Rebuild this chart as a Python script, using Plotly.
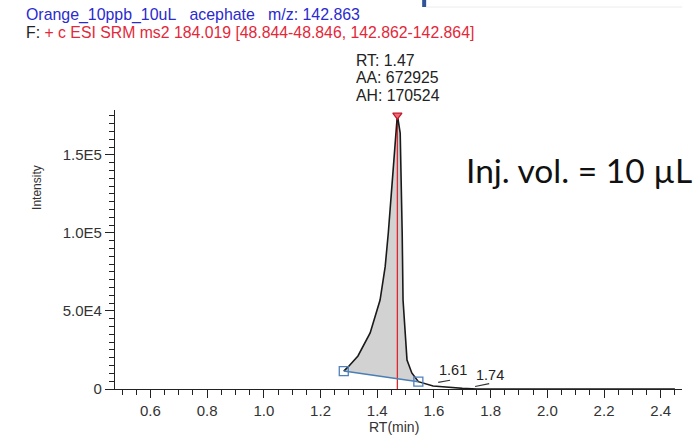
import plotly.graph_objects as go

# ---------------- data ----------------
rt_min = [1.282, 1.298, 1.332, 1.375, 1.410, 1.428, 1.439, 1.449, 1.457, 1.466,
          1.471, 1.481, 1.484, 1.488, 1.491, 1.498, 1.505, 1.522, 1.545, 1.597,
          1.657, 1.700, 1.751, 1.900, 2.100, 2.300, 2.450]
intensity = [11500, 14300, 21200, 35900, 57000, 78400, 100000, 121000, 142500, 164000,
             175500, 164000, 142500, 100000, 57000, 35900, 18600, 10300, 4700, 1900,
             950, 450, 0, 0, 0, 0, 0]

apex_rt = 1.471
apex_int = 175500
peak_info = ["RT: 1.47", "AA: 672925", "AH: 170524"]
boundary_rt = [1.282, 1.545]
boundary_int = [11500, 4700]
minor_labels = ["1.61", "1.74"]
minor_rt = [1.61, 1.74]
minor_int = [12300, 9000]
minor_line_rt = [[1.615, 1.657], [1.745, 1.795]]
minor_line_int = [[4300, 5600], [1600, 3500]]

x_ticks = [0.6, 0.8, 1.0, 1.2, 1.4, 1.6, 1.8, 2.0, 2.2, 2.4]
y_tickvals = [0, 50000, 100000, 150000]
y_ticktext = ["0", "5.0E4", "1.0E5", "1.5E5"]

GAP = "&nbsp;&nbsp;&nbsp;"
header1 = "Orange_10ppb_10uL" + GAP + "acephate" + GAP + "m/z: 142.863"
header2_prefix = "F: "
header2 = "+ c ESI SRM ms2 184.019 [48.844-48.846, 142.862-142.864]"
inj_text = "Inj. vol. = 10 µL"

# ---------------- layout geometry ----------------
W, H = 695, 436
L, R, T, B = 115, 681.7, 110, 389


def px(x):
    return (x - L) / (R - L)


def py(y):
    return (B - y) / (B - T)


fig = go.Figure()

# integrated area fill
poly_x = [r for r in rt_min if boundary_rt[0] <= r <= boundary_rt[1]]
poly_y = [i for r, i in zip(rt_min, intensity) if boundary_rt[0] <= r <= boundary_rt[1]]
poly_x += [boundary_rt[1], boundary_rt[0]]
poly_y += [boundary_int[1], boundary_int[0]]
fig.add_trace(go.Scatter(x=poly_x, y=poly_y, fill="toself", fillcolor="#d2d2d2",
                         line=dict(width=0), mode="lines", hoverinfo="skip"))

# red RT line
fig.add_trace(go.Scatter(x=[apex_rt, apex_rt], y=[0, apex_int], mode="lines",
                         line=dict(color="#e3262f", width=1.3), hoverinfo="skip"))

# chromatogram
fig.add_trace(go.Scatter(x=rt_min, y=intensity, mode="lines",
                         line=dict(color="#1a1a1a", width=1.6), hoverinfo="skip"))

# baseline
fig.add_trace(go.Scatter(x=boundary_rt, y=boundary_int, mode="lines+markers",
                         line=dict(color="#4a7fb5", width=1.6),
                         marker=dict(symbol="square-open", size=9, color="#4f81bd",
                                     line=dict(width=1.3)),
                         hoverinfo="skip"))

# apex marker
fig.add_trace(go.Scatter(x=[apex_rt], y=[apex_int], mode="markers",
                         marker=dict(symbol="triangle-down", size=8, color="#f06a78",
                                     line=dict(color="#c0182a", width=1.2)),
                         hoverinfo="skip"))

# minor peak label leader lines
for lx, ly in zip(minor_line_rt, minor_line_int):
    fig.add_trace(go.Scatter(x=lx, y=ly, mode="lines",
                             line=dict(color="#333333", width=1.2), hoverinfo="skip"))

annotations = []
for lab, r, i in zip(minor_labels, minor_rt, minor_int):
    annotations.append(dict(x=r, y=i, xref="x", yref="y", text=lab, showarrow=False,
                            xanchor="left", yanchor="middle",
                            font=dict(family="Arial", size=14.5, color="#222222")))

for k, line in enumerate(peak_info):
    annotations.append(dict(x=px(354), y=py(60 + 17.5 * k), xref="paper", yref="paper",
                            text=line, showarrow=False, xanchor="left", yanchor="middle",
                            font=dict(family="Arial", size=15.8, color="#222222")))

annotations.append(dict(x=px(24), y=py(15), xref="paper", yref="paper", text=header1,
                        showarrow=False, xanchor="left", yanchor="middle",
                        font=dict(family="Arial", size=15.9, color="#2a2ad0")))
annotations.append(dict(x=px(24), y=py(33), xref="paper", yref="paper",
                        text="<span style='color:#222222'>" + header2_prefix + "</span>" + header2,
                        showarrow=False, xanchor="left", yanchor="middle",
                        font=dict(family="Arial", size=15.8, color="#e3283a")))
annotations.append(dict(x=px(464), y=py(170), xref="paper", yref="paper", text=inj_text,
                        showarrow=False, xanchor="left", yanchor="middle",
                        font=dict(family="Lato", size=33.5, color="#111111")))
annotations.append(dict(x=px(37), y=py(187), xref="paper", yref="paper", text="Intensity",
                        showarrow=False, textangle=-90, xanchor="center", yanchor="middle",
                        font=dict(family="Arial", size=12, color="#333333")))
annotations.append(dict(x=px(394), y=py(427), xref="paper", yref="paper", text="RT(min)",
                        showarrow=False, xanchor="center", yanchor="middle",
                        font=dict(family="Arial", size=14, color="#333333")))

shapes = [
    dict(type="rect", xref="paper", yref="paper", x0=px(422), x1=px(426), y0=py(7), y1=py(0),
         fillcolor="#2f5597", line=dict(width=0)),
    dict(type="line", xref="paper", yref="paper", x0=px(426), x1=px(682), y0=py(7), y1=py(7),
         line=dict(color="#ececec", width=1)),
]

fig.update_layout(
    width=W, height=H,
    margin=dict(l=L, r=W - R, t=T, b=H - B, pad=0),
    paper_bgcolor="white", plot_bgcolor="white",
    showlegend=False,
    annotations=annotations,
    shapes=shapes,
    xaxis=dict(range=[0.475, 2.475], tickvals=x_ticks, ticktext=[f"{v:.1f}" for v in x_ticks],
               ticks="outside", ticklen=8, tickwidth=1, tickcolor="#222",
               showline=True, linecolor="#222", linewidth=1.2, showgrid=False, zeroline=False,
               minor=dict(dtick=0.05, tick0=0.0, ticks="outside", ticklen=5, tickcolor="#222",
                          showgrid=False),
               tickfont=dict(family="Arial", size=15, color="#333333")),
    yaxis=dict(range=[0, 178800], tickvals=y_tickvals, ticktext=y_ticktext,
               ticks="outside", ticklen=9, tickwidth=1, tickcolor="#222",
               showline=True, linecolor="#222", linewidth=1.2, showgrid=False, zeroline=False,
               minor=dict(dtick=5000, tick0=0, ticks="outside", ticklen=5, tickcolor="#222",
                          showgrid=False),
               tickfont=dict(family="Arial", size=15, color="#333333")),
)

fig.write_html("out.html")
